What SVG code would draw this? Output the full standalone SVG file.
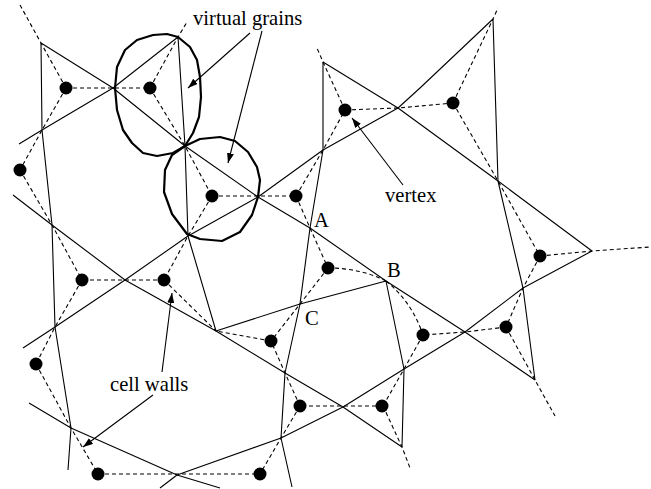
<svg xmlns="http://www.w3.org/2000/svg" width="651" height="489" viewBox="0 0 651 489">
<style>
.s{fill:none;stroke:#000;stroke-width:1.1;stroke-linejoin:round}
.d{fill:none;stroke:#000;stroke-width:1.1;stroke-dasharray:4 3}
.g{fill:none;stroke:#000;stroke-width:2.2;stroke-linejoin:round}
.p{fill:none;stroke:#000;stroke-width:1.1}
.dot{fill:#000}
text{font-family:"Liberation Serif","Times New Roman",serif;font-size:20.6px;fill:#000}
</style>
<defs>
<marker id="ah" markerUnits="userSpaceOnUse" markerWidth="11" markerHeight="8" refX="10" refY="3.5" orient="auto">
<path d="M0,0 L10,3.5 L0,7 z" fill="#000"/>
</marker>
</defs>
<rect width="651" height="489" fill="#fff"/>
<g id="connectors">
<g id="walls">
<polyline class="s" points="19,144 42,130 113,88 178,37"/>
<polyline class="s" points="41,43 113,88 185,146 258,197 310,228 386,281 465,332 535,380"/>
<polyline class="s" points="41,43 42,130 52,225 55,327 71,428 68,470"/>
<polyline class="s" points="178,37 185,146 188,236 216,331"/>
<polyline class="s" points="13,195 52,225 125,280 216,331 285,373 343,407 402,447"/>
<polyline class="s" points="23,348 55,327 125,280 188,236 258,197 323,150 398,108 420,88 493,19"/>
<polyline class="s" points="323,62 323,150 310,228 300,304 285,373 281,438 292,487"/>
<polyline class="s" points="323,62 398,108 498,181 592,251"/>
<polyline class="s" points="493,19 498,181 523,288 535,380"/>
<polyline class="s" points="216,331 300,304 386,281"/>
<polyline class="s" points="386,281 404,369 402,447"/>
<polyline class="s" points="29,403 71,428 177,475 220,488"/>
<polyline class="s" points="160,488 177,475 281,438 343,407 404,369 465,332 523,288 592,251"/>
</g>
<g id="links">
<polyline class="d" points="20,5 41,43 66,88"/>
<polyline class="d" points="66,88 42,130 20,170"/>
<line class="d" x1="66" y1="88" x2="150" y2="88"/>
<polyline class="d" points="150,88 178,37 187,22"/>
<polyline class="d" points="150,88 185,146 212,196"/>
<polyline class="d" points="20,170 52,225 82,280"/>
<polyline class="d" points="212,196 188,236 164,280"/>
<line class="d" x1="212" y1="196" x2="296" y2="196"/>
<polyline class="d" points="296,196 323,150 345,110"/>
<polyline class="d" points="296,196 310,228 328,268"/>
<polyline class="d" points="345,110 323,62 317,48"/>
<polyline class="d" points="345,110 398,108 453,103"/>
<polyline class="d" points="453,103 493,19 498,8"/>
<polyline class="d" points="453,103 498,181 540,256"/>
<polyline class="d" points="540,256 592,251 650,247"/>
<polyline class="d" points="540,256 523,288 506,327"/>
<polyline class="d" points="506,327 465,332 423,335"/>
<polyline class="d" points="506,327 535,380 555,416"/>
<polyline class="d" points="423,335 404,369 383,406"/>
<line class="d" x1="383" y1="406" x2="300" y2="406"/>
<polyline class="d" points="383,406 402,447 410,468"/>
<polyline class="d" points="300,406 285,373 271,341"/>
<polyline class="d" points="300,406 281,438 260,474"/>
<line class="d" x1="271" y1="341" x2="216" y2="331"/>
<line class="d" x1="164" y1="280" x2="216" y2="331"/>
<line class="d" x1="164" y1="280" x2="82" y2="280"/>
<polyline class="d" points="82,280 55,327 36,364"/>
<polyline class="d" points="36,364 71,428 98,474"/>
<line class="d" x1="98" y1="474" x2="260" y2="474"/>
<polyline class="d" points="328,268 300,304 271,341"/>
<path class="d" d="M328,268 Q360,268 386,281"/>
<path class="d" d="M386,281 Q412,302 423,335"/>
</g>
<g id="pointers">
<line class="p" x1="250" y1="33" x2="188" y2="88" marker-end="url(#ah)"/>
<line class="p" x1="262" y1="31" x2="228" y2="163" marker-end="url(#ah)"/>
<line class="p" x1="403" y1="185" x2="352" y2="118" marker-end="url(#ah)"/>
<line class="p" x1="162" y1="372" x2="172" y2="293" marker-end="url(#ah)"/>
<line class="p" x1="153" y1="395" x2="83" y2="447" marker-end="url(#ah)"/>
</g>
</g>
<g id="grain1">
<path class="g" d="M115,88 L117,67 L125,50 L137,40 L153,35 L167,34 L178,37 L190,47 L197,60 L200,77 L201,97 L199,117 L193,133 L185,146 L173,153 L157,156 L143,153 L132,143 L123,130 L117,110 Z"/>
</g>
<g id="grain2">
<path class="g" d="M185,146 L200,139 L220,137 L235,141 L248,152 L257,167 L260,180 L258,197 L252,215 L240,232 L222,241 L200,239 L187,234 L172,214 L164,192 L165,170 L172,155 Z"/>
</g>
<g id="nodes">
<circle id="n1" class="dot" cx="66" cy="88" r="6.5"/>
<circle id="n2" class="dot" cx="150" cy="88" r="6.5"/>
<circle id="n3" class="dot" cx="20" cy="170" r="6.5"/>
<circle id="n4" class="dot" cx="345" cy="110" r="6.5"/>
<circle id="n5" class="dot" cx="453" cy="103" r="6.5"/>
<circle id="n6" class="dot" cx="212" cy="196" r="6.5"/>
<circle id="n7" class="dot" cx="296" cy="196" r="6.5"/>
<circle id="n8" class="dot" cx="82" cy="280" r="6.5"/>
<circle id="n9" class="dot" cx="164" cy="280" r="6.5"/>
<circle id="n10" class="dot" cx="328" cy="268" r="6.5"/>
<circle id="n11" class="dot" cx="540" cy="256" r="6.5"/>
<circle id="n12" class="dot" cx="506" cy="327" r="6.5"/>
<circle id="n13" class="dot" cx="423" cy="335" r="6.5"/>
<circle id="n14" class="dot" cx="271" cy="341" r="6.5"/>
<circle id="n15" class="dot" cx="36" cy="364" r="6.5"/>
<circle id="n16" class="dot" cx="300" cy="406" r="6.5"/>
<circle id="n17" class="dot" cx="382" cy="406" r="6.5"/>
<circle id="n18" class="dot" cx="98" cy="474" r="6.5"/>
<circle id="n19" class="dot" cx="260" cy="474" r="6.5"/>
</g>
<g id="labels">
<text x="193" y="25">virtual grains</text>
<text x="385" y="202">vertex</text>
<text x="314" y="227">A</text>
<text x="387" y="277">B</text>
<text x="305" y="325">C</text>
<text x="110" y="391">cell walls</text>
</g>
</svg>
